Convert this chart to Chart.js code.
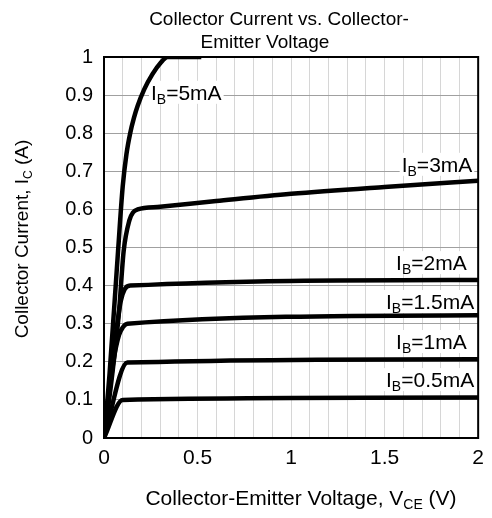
<!DOCTYPE html>
<html>
<head>
<meta charset="utf-8">
<script src="https://cdn.jsdelivr.net/npm/chart.js@4/dist/chart.umd.min.js"></script>
<style>
    html, body { margin: 0; padding: 0; background: #fff; }
</style>
</head>
<body>
<canvas id="chart" width="492" height="518"></canvas>
<script>
// 各ベース電流のVce / Ic 曲線
const vce05 = [0, 0.1, 2];
const ic05 = [0, 0.1, 0.106];
const vce1 = [0, 0.125, 2];
const ic1 = [0, 0.198, 0.207];
const vce15 = [0, 0.05, 0.08, 0.1, 0.125, 2];
const ic15 = [0, 0.2, 0.27, 0.29, 0.3, 0.322];
const vce2 = [0, 0.06, 0.09, 0.11, 0.14, 2];
const ic2 = [0, 0.26, 0.36, 0.39, 0.4, 0.415];
const vce3 = [0, 0.04, 0.08, 0.105, 0.136, 0.155, 0.18, 0.3, 0.6, 1, 1.5, 2];
const ic3 = [0, 0.15, 0.33, 0.49, 0.572, 0.592, 0.6, 0.607, 0.622, 0.641, 0.659, 0.675];
const vce5 = [0, 0.03, 0.075, 0.1, 0.12, 0.14, 0.16, 0.18, 0.215, 0.259, 0.303, 0.34, 0.52];
const ic5 = [0, 0.17, 0.49, 0.66, 0.745, 0.8, 0.84, 0.872, 0.915, 0.955, 0.985, 1, 1];

// 曲線ラベル
const curveNames = ['0.5mA', '1mA', '1.5mA', '2mA', '3mA', '5mA'];
const labelV = [1.743, 1.75, 1.743, 1.75, 1.78, 0.44];
const labelI = [0.152, 0.252, 0.357, 0.459, 0.717, 0.906];

// 軸の目盛り
const xMin = 0, xMax = 2, xStep = 0.1;
const yMin = 0, yMax = 1, yStep = 0.1;

const FONT = '"Liberation Sans", Arial, sans-serif';

function toPoints(xs, ys) {
    return xs.map((x, i) => ({ x: x, y: ys[i] }));
}

const series = [
    [vce05, ic05], [vce1, ic1], [vce15, ic15],
    [vce2, ic2], [vce3, ic3], [vce5, ic5]
];

/**
 * 下付き文字付きテキストの幅を測定
 * parts: [[text, isSub], ...]
 */
function measureParts(ctx, parts, size) {
    const subSize = Math.round(size * 0.65);
    return parts.map(([t, sub]) => {
        ctx.font = `${sub ? subSize : size}px ${FONT}`;
        return ctx.measureText(t).width;
    });
}

/**
 * 下付き文字付きテキストを描画
 */
function drawParts(ctx, parts, x, y, size, align) {
    const subSize = Math.round(size * 0.65);
    const widths = measureParts(ctx, parts, size);
    const total = widths.reduce((a, b) => a + b, 0);
    let cx = align === 'center' ? x - total / 2 : (align === 'right' ? x - total : x);
    ctx.textAlign = 'left';
    ctx.textBaseline = 'alphabetic';
    parts.forEach(([t, sub], i) => {
        ctx.font = `${sub ? subSize : size}px ${FONT}`;
        ctx.fillText(t, cx, sub ? y + size * 0.2 : y);
        cx += widths[i];
    });
    return total;
}

const decorPlugin = {
    id: 'decor',
    beforeDraw(chart) {
        const ctx = chart.ctx;
        ctx.save();
        ctx.fillStyle = '#fff';
        ctx.fillRect(0, 0, chart.width, chart.height);
        ctx.restore();
    },
    beforeDatasetsDraw(chart) {
        // 曲線ラベル（白背景付き、曲線の下に描画）
        const ctx = chart.ctx;
        const xs = chart.scales.x;
        const ys = chart.scales.y;
        const size = 21;
        ctx.save();
        curveNames.forEach((name, i) => {
            const px = xs.getPixelForValue(labelV[i]);
            const py = ys.getPixelForValue(labelI[i]);
            const parts = [['I', false], ['B', true], ['=' + name, false]];
            const w = measureParts(ctx, parts, size).reduce((a, b) => a + b, 0);
            ctx.fillStyle = '#fff';
            ctx.fillRect(px - w / 2 - 2, py - 12, w + 4, 23);
            ctx.fillStyle = '#000';
            drawParts(ctx, parts, px, py + 7, size, 'center');
        });
        ctx.restore();
    },
    afterDatasetsDraw(chart) {
        const ctx = chart.ctx;
        const area = chart.chartArea;
        ctx.save();

        // 枠線
        ctx.strokeStyle = '#000';
        ctx.lineWidth = 2;
        ctx.strokeRect(area.left, area.top, area.right - area.left, area.bottom - area.top);

        // タイトル
        ctx.fillStyle = '#000';
        ctx.font = `19px ${FONT}`;
        ctx.textAlign = 'center';
        ctx.textBaseline = 'alphabetic';
        ctx.fillText('Collector Current vs. Collector-', 279, 25);
        ctx.fillText('Emitter Voltage', 265, 48);

        // X軸タイトル
        drawParts(ctx, [['Collector-Emitter Voltage, V', false], ['CE', true], [' (V)', false]], 301, 505, 21, 'center');

        // Y軸タイトル
        ctx.translate(28, 239);
        ctx.rotate(-Math.PI / 2);
        drawParts(ctx, [['Collector Current, I', false], ['C', true], [' (A)', false]], 0, 0, 19, 'center');
        ctx.restore();
    }
};

const chart = new Chart(document.getElementById('chart').getContext('2d'), {
    type: 'line',
    data: {
        datasets: series.map(([xs, ys]) => ({
            data: toPoints(xs, ys),
            borderColor: '#000',
            borderWidth: 4.5,
            pointRadius: 0,
            fill: false,
            cubicInterpolationMode: 'monotone'
        }))
    },
    options: {
        responsive: false,
        animation: false,
        devicePixelRatio: 1,
        layout: { padding: { left: 0, top: 57, right: 7, bottom: 0 } },
        plugins: {
            legend: { display: false },
            tooltip: { enabled: false },
            title: { display: false }
        },
        scales: {
            x: {
                type: 'linear',
                min: xMin,
                max: xMax,
                afterFit(scale) { scale.height = 80; },
                border: { display: false },
                grid: { color: '#d6d6d6', lineWidth: 1, drawTicks: false },
                ticks: {
                    stepSize: xStep,
                    autoSkip: false,
                    maxRotation: 0,
                    padding: 8,
                    color: '#000',
                    font: { family: FONT, size: 21 },
                    callback(v) {
                        const r = Math.round(v * 10);
                        return r % 5 === 0 ? String(r / 10) : '';
                    }
                }
            },
            y: {
                type: 'linear',
                min: yMin,
                max: yMax,
                afterFit(scale) { scale.width = 104; },
                border: { display: false },
                grid: { color: '#a0a0a0', lineWidth: 1, drawTicks: false },
                ticks: {
                    stepSize: yStep,
                    padding: 11,
                    color: '#000',
                    font: { family: FONT, size: 20 },
                    callback(v) { return String(Math.round(v * 10) / 10); }
                }
            }
        }
    },
    plugins: [decorPlugin]
});
</script>
</body>
</html>
